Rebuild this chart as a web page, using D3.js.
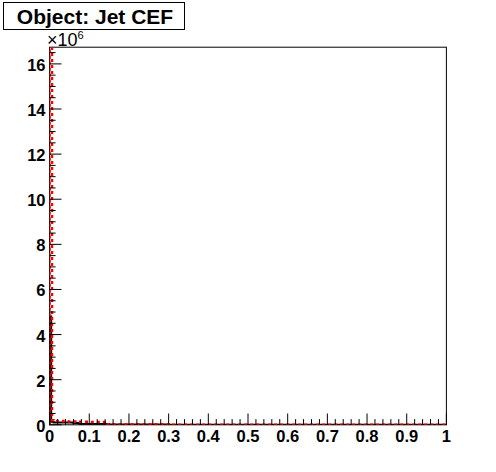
<!DOCTYPE html>
<html>
<head>
<meta charset="utf-8">
<script src="https://cdn.jsdelivr.net/npm/d3@7"></script>
<style>
  body { margin: 0; background: #fff; }
  text { font-family: "Liberation Sans", Arial, sans-serif; }
</style>
</head>
<body>
<svg id="chart" width="496" height="472"></svg>
<script>
// histogram values in units of 10^6, variable-width bins
var redEdges = [0, 0.006, 0.01, 0.035, 0.065, 0.1, 0.145, 0.3, 1];
var redValues = [17.5, 0.2, 0.17, 0.15, 0.13, 0.12, 0.02, 0.005];

var blackEdges = [0, 0.004, 0.01, 0.06, 0.075, 0.15, 0.3, 1];
var blackValues = [4.8, 0.14, 0.1, 0.08, 0.04, 0.01, 0.003];

var yTicks = [0, 2, 4, 6, 8, 10, 12, 14, 16];
var xTicks = [0, 0.1, 0.2, 0.3, 0.4, 0.5, 0.6, 0.7, 0.8, 0.9, 1];
var titleText = "Object: Jet CEF";

var svg = d3.select("#chart");
var frame = {left: 49.6, right: 446.4, top: 47.2, bottom: 424.8};

var x = d3.scaleLinear().domain([0, 1]).range([frame.left, frame.right]);
var y = d3.scaleLinear().domain([0, 16.74]).range([frame.bottom, frame.top]);

svg.append("rect").attr("width", 496).attr("height", 472).attr("fill", "#fff");

svg.append("clipPath").attr("id", "clip")
  .append("rect")
  .attr("x", frame.left).attr("y", frame.top)
  .attr("width", frame.right - frame.left)
  .attr("height", frame.bottom - frame.top);

// step outline of a histogram, ROOT style
function histPath(edges, values) {
  var p = d3.path();
  p.moveTo(x(edges[0]), y(0));
  for (var i = 0; i < values.length; i++) {
    p.lineTo(x(edges[i]), y(values[i]));
    p.lineTo(x(edges[i + 1]), y(values[i]));
  }
  p.lineTo(x(edges[edges.length - 1]), y(0));
  return p.toString();
}

// frame
svg.append("rect")
  .attr("x", frame.left).attr("y", frame.top)
  .attr("width", frame.right - frame.left)
  .attr("height", frame.bottom - frame.top)
  .attr("fill", "none")
  .attr("stroke", "#000")
  .attr("stroke-width", 1);

var plot = svg.append("g").attr("clip-path", "url(#clip)");

plot.append("path")
  .attr("d", histPath(blackEdges, blackValues))
  .attr("fill", "none")
  .attr("stroke", "#000")
  .attr("stroke-width", 2);

plot.append("path")
  .attr("d", histPath(redEdges, redValues))
  .attr("fill", "none")
  .attr("stroke", "#ff0000")
  .attr("stroke-width", 2.5)
  .attr("stroke-dasharray", "3,3");

// x axis ticks (pointing inward)
var xMinor = d3.range(0, 51).map(function(i) { return i / 50; });
svg.append("g").selectAll("line").data(xMinor).enter().append("line")
  .attr("x1", function(d) { return x(d); })
  .attr("x2", function(d) { return x(d); })
  .attr("y1", frame.bottom)
  .attr("y2", function(d, i) { return frame.bottom - (i % 5 === 0 ? 11.3 : 5.7); })
  .attr("stroke", "#000");

svg.append("g").selectAll("text").data(xTicks).enter().append("text")
  .attr("x", function(d) { return x(d); })
  .attr("y", 441.5)
  .attr("text-anchor", "middle")
  .attr("font-size", 16.5)
  .attr("font-weight", "bold")
  .text(function(d) { return d3.format("")(d); });

// y axis ticks
var yMinor = d3.range(0, 34).map(function(i) { return i / 2; });
svg.append("g").selectAll("line").data(yMinor).enter().append("line")
  .attr("x1", frame.left)
  .attr("x2", function(d, i) { return frame.left + (i % 4 === 0 ? 11.9 : 6); })
  .attr("y1", function(d) { return y(d); })
  .attr("y2", function(d) { return y(d); })
  .attr("stroke", "#000");

svg.append("g").selectAll("text").data(yTicks).enter().append("text")
  .attr("x", 45.5)
  .attr("y", function(d) { return y(d) + 7; })
  .attr("text-anchor", "end")
  .attr("font-size", 16.5)
  .attr("font-weight", "bold")
  .text(function(d) { return d; });

// exponent label
var expo = svg.append("text")
  .attr("x", 47)
  .attr("y", 45.5)
  .attr("font-size", 18);
expo.append("tspan").text("\u00d710");
expo.append("tspan").attr("font-size", 11).attr("dy", -7).text("6");

// title box
svg.append("rect")
  .attr("x", 3.5).attr("y", 2.5)
  .attr("width", 181).attr("height", 27)
  .attr("fill", "#fff")
  .attr("stroke", "#000");

svg.append("text")
  .attr("x", 95)
  .attr("y", 24)
  .attr("text-anchor", "middle")
  .attr("font-size", 21)
  .attr("font-weight", "bold")
  .text(titleText);
</script>
</body>
</html>
